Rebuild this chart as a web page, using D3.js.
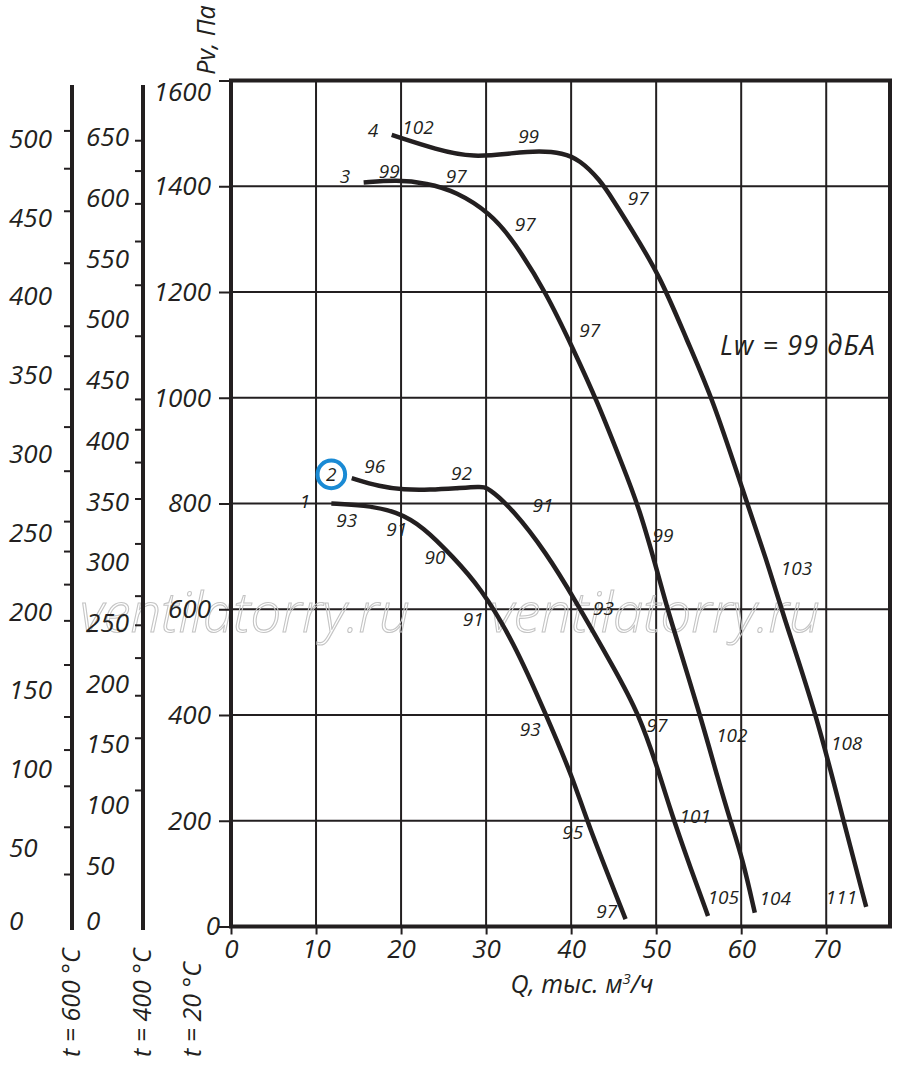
<!DOCTYPE html>
<html>
<head>
<meta charset="utf-8">
<script src="https://cdn.jsdelivr.net/npm/d3@7"></script>
<style>
  body { margin: 0; background: #fff; }
  text { font-family: "Open Sans", sans-serif; font-style: italic; fill: #231f20; }
</style>
</head>
<body>
<svg id="chart" width="900" height="1066"></svg>
<script>
// axis values
const qTicks = [0, 10, 20, 30, 40, 50, 60, 70];
const pTicks = [0, 200, 400, 600, 800, 1000, 1200, 1400, 1600];
const t600Labels = [0, 50, 100, 150, 200, 250, 300, 350, 400, 450, 500];
const t400Labels = [0, 50, 100, 150, 200, 250, 300, 350, 400, 450, 500, 550, 600, 650];
// the side scales have their own (uneven) tick marks
const t600Ticks = [505, 481, 454, 421, 381, 362, 341, 317, 289, 257, 238, 217, 194, 166, 133, 112, 89, 63, 33];
const t400Ticks = [647, 622, 595, 564, 528, 486, 434, 409, 382, 352, 315, 272, 248, 221, 190, 155, 112];

// fan curves, [Q thousand m3/h, Pv Pa]
const curve1 = [[11.8, 800], [15.6, 797], [19.5, 785], [22.6, 756], [26.1, 699], [29.3, 642], [33.2, 540],
  [37.1, 399], [40.3, 277], [41.8, 201], [46.4, 14]];
const curve2 = [[14.2, 848], [17.5, 832], [20.3, 826], [23.4, 826], [26.5, 829], [29.3, 832], [30.2, 831],
  [33.2, 788], [37.1, 706], [40.3, 622], [45.0, 490], [48.0, 402], [50.5, 283], [51.8, 214], [53.7, 126], [56.1, 20]];
const curve3 = [[15.6, 1407], [19.5, 1412], [23.0, 1406], [26.5, 1390], [30.5, 1349], [33.2, 1298], [37.1, 1198],
  [40.3, 1090], [43.0, 996], [46.1, 870], [48.0, 792], [50.3, 662], [51.4, 595], [55.2, 399], [57.3, 277],
  [58.7, 201], [60.2, 126], [61.6, 26]];
const curve4 = [[18.9, 1497], [24.2, 1469], [28.5, 1454], [33.2, 1463], [36.3, 1467], [39.0, 1463], [41.0, 1450],
  [43.4, 1412], [44.9, 1375], [46.9, 1324], [50.5, 1229], [53.6, 1109], [56.7, 996], [60.3, 819], [63.0, 693],
  [64.8, 595], [68.9, 399], [72.0, 201], [74.7, 37]];

// sound level notes along the curves, [text, Q, Pv]
const curve1Labels = [["1", 8.7, 805], ["93", 13.6, 769], ["91", 19.5, 751], ["90", 24.0, 699], ["91", 28.5, 580],
  ["93", 35.2, 372], ["95", 40.2, 179], ["97", 44.2, 28]];
const curve2Labels = [["96", 16.9, 870], ["92", 27.1, 857], ["91", 36.7, 797], ["93", 43.8, 602],
  ["97", 50.1, 381], ["101", 54.6, 208], ["105", 57.9, 56]];
const curve3Labels = [["3", 13.4, 1418], ["99", 18.6, 1429], ["97", 26.5, 1418], ["97", 34.6, 1327], ["97", 42.2, 1128],
  ["99", 50.8, 740], ["102", 58.9, 362], ["104", 64.0, 53]];
const curve4Labels = [["4", 16.7, 1506], ["102", 22.0, 1511], ["99", 35.0, 1494], ["97", 47.9, 1377],
  ["103", 66.5, 677], ["108", 72.4, 346], ["111", 71.8, 56]];
const markedCurve = ["2", 11.8, 855];

const svg = d3.select("#chart");
const ink = "#231f20";

const x = d3.scaleLinear().domain([0, 77.5]).range([231, 890]);
const y = d3.scaleLinear().domain([0, 1600]).range([926.5, 80.5]);
// same pressure, read at 600 and 400 degrees
const y600 = d3.scaleLinear().domain([0, 1600 * 293 / 873]).range(y.range());
const y400 = d3.scaleLinear().domain([0, 1600 * 293 / 673]).range(y.range());

// grid
const grid = svg.append("g").attr("stroke", ink).attr("stroke-width", 2);
grid.selectAll(".vg").data(qTicks.slice(1)).enter().append("line")
  .attr("x1", d => x(d)).attr("x2", d => x(d))
  .attr("y1", y(1600)).attr("y2", y(0));
grid.selectAll(".hg").data(pTicks.slice(1, -1)).enter().append("line")
  .attr("x1", x(0)).attr("x2", x(77.5))
  .attr("y1", d => y(d)).attr("y2", d => y(d));

// watermark
["ventilatorry.ru", "ventilatorry.ru"].forEach((w, i) => {
  svg.append("text")
    .attr("x", i == 0 ? 80 : 490).attr("y", 632)
    .attr("textLength", 330).attr("lengthAdjust", "spacingAndGlyphs")
    .style("font-size", "56px").style("font-weight", 300)
    .style("fill", "none").style("stroke", "#c4c4c4").style("stroke-width", 1.1)
    .text(w);
});

// main axes
const yAxis = svg.append("g").attr("transform", `translate(${x(0)},0)`)
  .call(d3.axisLeft(y).tickValues(pTicks).tickSize(12).tickPadding(8).tickFormat(d3.format("d")));
const xAxis = svg.append("g").attr("transform", `translate(0,${y(0)})`)
  .call(d3.axisBottom(x).tickValues(qTicks).tickSize(8).tickPadding(5).tickFormat(d3.format("d")));
[yAxis, xAxis].forEach(a => {
  a.attr("font-family", null).attr("font-size", null);
  a.select(".domain").remove();
  a.selectAll(".tick line").attr("stroke", ink).attr("stroke-width", 2);
  a.selectAll(".tick text").style("font-size", "26px").attr("fill", ink);
});
yAxis.selectAll(".tick text")
  .attr("x", d => d == 0 ? -11 : -20)
  .attr("y", d => d == 1600 ? 12 : 0);

// frame
svg.append("rect")
  .attr("x", x(0)).attr("y", y(1600))
  .attr("width", x(77.5) - x(0)).attr("height", y(0) - y(1600))
  .attr("fill", "none").attr("stroke", ink).attr("stroke-width", 4);

// side scales for hot air
function sideScale(cx, scale, ticks, labels, labelX) {
  const g = svg.append("g");
  g.append("line").attr("x1", cx).attr("x2", cx).attr("y1", 85).attr("y2", 930)
    .attr("stroke", ink).attr("stroke-width", 4);
  g.selectAll(".tk").data(ticks).enter().append("line")
    .attr("x1", cx - 8).attr("x2", cx)
    .attr("y1", d => scale(d)).attr("y2", d => scale(d))
    .attr("stroke", ink).attr("stroke-width", 2);
  g.selectAll(".lb").data(labels).enter().append("text")
    .attr("x", labelX)
    .attr("y", d => Math.min(scale(d), 921))
    .attr("dy", "0.35em")
    .style("font-size", "26px")
    .text(d => d);
}
sideScale(72, y600, t600Ticks, t600Labels, 9);
sideScale(143, y400, t400Ticks, t400Labels, 86);

// curves
const line = d3.line()
  .x(d => x(d[0])).y(d => y(d[1]))
  .curve(d3.curveBasis);
svg.append("g").selectAll("path")
  .data([curve1, curve2, curve3, curve4])
  .enter().append("path")
  .attr("d", line)
  .attr("fill", "none")
  .attr("stroke", ink)
  .attr("stroke-width", 4.5);

// notes on curves
const notes = curve1Labels.concat(curve2Labels, curve3Labels, curve4Labels, [markedCurve]);
svg.append("g").selectAll("text")
  .data(notes)
  .enter().append("text")
  .attr("x", d => x(d[1])).attr("y", d => y(d[2]))
  .attr("dy", "0.35em")
  .attr("text-anchor", "middle")
  .style("font-size", "19px")
  .text(d => d[0]);

svg.append("circle")
  .attr("cx", x(markedCurve[1])).attr("cy", y(markedCurve[2]))
  .attr("r", 13.8)
  .attr("fill", "none").attr("stroke", "#1a8ad4").attr("stroke-width", 4);

svg.append("text")
  .attr("x", 720).attr("y", 355)
  .attr("textLength", 155).attr("lengthAdjust", "spacing")
  .style("font-size", "27px")
  .text("Lw = 99 дБА");

// axis titles
const qTitle = svg.append("text")
  .attr("x", 582).attr("y", 993)
  .attr("text-anchor", "middle")
  .style("font-size", "25px");
qTitle.append("tspan").text("Q, тыс. м");
qTitle.append("tspan").attr("dy", -9).style("font-size", "15px").text("3");
qTitle.append("tspan").attr("dy", 9).text("/ч");

svg.append("text")
  .attr("transform", "translate(215,40) rotate(-90)")
  .attr("text-anchor", "middle")
  .style("font-size", "25px")
  .text("Pv, Па");

[["t = 600 °C", 80], ["t = 400 °C", 151], ["t = 20 °C", 201]].forEach(t => {
  svg.append("text")
    .attr("transform", `translate(${t[1]},1057) rotate(-90)`)
    .style("font-size", "25px")
    .text(t[0]);
});
</script>
</body>
</html>
